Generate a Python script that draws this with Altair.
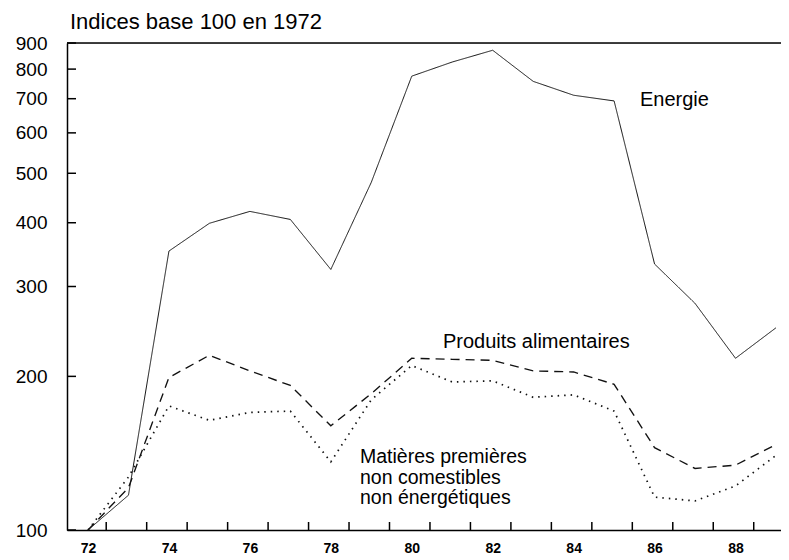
import altair as alt
import pandas as pd

# ---- data ----
annees = list(range(72, 90))
energie = [100, 117, 352, 399, 421, 406, 324, 480, 775, 826, 871, 757, 711, 693, 332, 278, 217, 249]
produits_alimentaires = [100, 121, 199, 220, 205, 192, 160, 185, 217, 216, 215, 205, 204, 193, 145, 132, 134, 147]
matieres_premieres = [100, 127, 175, 164, 170, 171, 136, 180, 210, 195, 196, 182, 184, 171, 116, 114, 122, 140]

series_names = ["Energie", "Produits alimentaires", "Matières premières"]
y_ticks = [100, 200, 300, 400, 500, 600, 700, 800, 900]
x_labels = [72, 74, 76, 78, 80, 82, 84, 86, 88]
x_tick_marks = [a + 0.45 for a in range(72, 89)]

titre = "Indices base 100 en 1972"

# ---- tables ----
rows = []
for name, vals in zip(series_names, [energie, produits_alimentaires, matieres_premieres]):
    for a, v in zip(annees, vals):
        rows.append({"annee": a, "serie": name, "valeur": v})
df = pd.DataFrame(rows)

labels_big = pd.DataFrame([
    {"lx": 85.64, "ly": 696, "txt": "Energie"},
    {"lx": 80.77, "ly": 234, "txt": "Produits alimentaires"},
])
labels_mp = pd.DataFrame([
    {"lx": 78.72, "ly": 139, "txt": "Matières premières"},
    {"lx": 78.72, "ly": 126.5, "txt": "non comestibles"},
    {"lx": 78.72, "ly": 115.5, "txt": "non énergétiques"},
])

FONT = "Liberation Sans"
W, H = 714, 487

xs = alt.Scale(domain=[71.481, 89.124], nice=False, zero=False)
ys = alt.Scale(type="log", domain=[100, 900], nice=False)

x_axis = alt.Axis(values=x_labels, title=None, tickSize=0, labelPadding=11,
                  labelFont=FONT, labelFontSize=14, labelFontWeight="bold",
                  labelColor="black", domainColor="black", domainWidth=1.5,
                  grid=False, format="d")
y_axis = alt.Axis(values=y_ticks, title=None, tickSize=0, labelPadding=20,
                  labelFont=FONT, labelFontSize=19, labelColor="black",
                  domainColor="black", domainWidth=1.5, grid=False, format="d")


def X(field):
    return alt.X(field, type="quantitative", scale=xs, axis=x_axis)


def Y(field):
    return alt.Y(field, type="quantitative", scale=ys, axis=y_axis)


lines = alt.Chart(df).mark_line(color="#111").encode(
    x=X("annee"),
    y=Y("valeur"),
    detail="serie:N",
    strokeDash=alt.StrokeDash("serie:N", legend=None,
                              scale=alt.Scale(domain=series_names,
                                              range=[[1, 0], [9, 6], [1.5, 5]])),
    strokeWidth=alt.StrokeWidth("serie:N", legend=None,
                                scale=alt.Scale(domain=series_names, range=[1.0, 1.7, 1.9])),
)

ytick_df = pd.DataFrame({"v": y_ticks})
yticks = alt.Chart(ytick_df).mark_rule(color="black", strokeWidth=1.5).encode(
    y=Y("v"), x=alt.value(0), x2=alt.value(9)
)

xtick_df = pd.DataFrame({"t": x_tick_marks})
xticks = alt.Chart(xtick_df).mark_rule(color="black", strokeWidth=1.5).encode(
    x=X("t"), y=alt.value(H), y2=alt.value(H - 8)
)

top_line = alt.Chart(pd.DataFrame({"k": [0]})).mark_rule(color="black", strokeWidth=1.5).encode(
    y=alt.value(0)
)

texts_big = alt.Chart(labels_big).mark_text(align="left", baseline="middle", font=FONT,
                                            fontSize=20, color="black").encode(
    x=X("lx"), y=Y("ly"), text="txt:N"
)
texts_mp = alt.Chart(labels_mp).mark_text(align="left", baseline="middle", font=FONT,
                                          fontSize=19.5, color="black").encode(
    x=X("lx"), y=Y("ly"), text="txt:N"
)

title_text = alt.Chart(pd.DataFrame({"t": [titre]})).mark_text(
    align="left", baseline="middle", font=FONT, fontSize=22, color="black"
).encode(x=alt.value(3), y=alt.value(-21), text="t:N")

chart = alt.layer(top_line, lines, yticks, xticks, texts_big, texts_mp, title_text).properties(
    width=W, height=H,
    autosize=alt.AutoSizeParams(type="none"),
    padding={"left": 59, "top": 35, "right": 0, "bottom": 30},
).configure_view(stroke=None).configure(background="white")

chart.save("out.html", embed_options={"renderer": "svg", "actions": False})
